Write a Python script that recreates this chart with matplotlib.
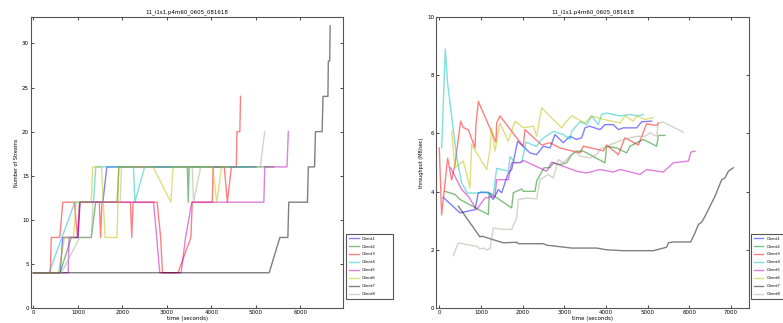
import matplotlib
matplotlib.use("Agg")
import matplotlib.pyplot as plt

TITLE = "11_i1s1.p4m60_0605_081618"
CLIENTS = ["Client1", "Client2", "Client3", "Client4",
           "Client5", "Client6", "Client7", "Client8"]
COLORS = ["b", "g", "r", "c", "m", "y", "k", "#a8a890"]

# number of streams per client: (time, streams)
streams_t = [
    [0, 600, 660, 1000, 1040, 1100, 1560, 1650, 5000],
    [0, 600, 850, 1300, 1400, 1880, 1920, 3460, 3480, 3500, 5400],
    [0, 380, 400, 590, 660, 920, 990, 1040, 1480, 1510, 1540, 2180, 2210, 2240,
     2780, 2860, 2900, 3250, 3540, 3570, 4020, 4040, 4290, 4360, 4450, 4560,
     4575, 4640, 4655],
    [0, 350, 930, 1350, 1400, 2250, 2280, 2500, 4900],
    [0, 780, 800, 1000, 1050, 2700, 2840, 3320, 3420, 3560, 5180, 5200, 5700, 5730],
    [0, 560, 700, 900, 960, 1300, 1330, 1530, 1610, 1880, 1920, 2690, 3090, 3140,
     4030, 4120, 4230, 4400],
    [0, 5300, 5540, 5720, 5740, 6160, 6180, 6320, 6340, 6490, 6510, 6620, 6630,
     6660, 6670],
    [0, 630, 1040, 1300, 1340, 1950, 1980, 3570, 3600, 3760, 5100, 5200],
]
streams_v = [
    [4, 4, 8, 8, 12, 12, 12, 16, 16],
    [4, 4, 8, 8, 12, 12, 16, 16, 12, 16, 16],
    [4, 4, 8, 8, 12, 12, 8, 12, 12, 8, 12, 12, 8, 12,
     12, 8, 4, 4, 8, 12, 12, 16, 16, 12, 16, 16,
     20, 20, 24],
    [4, 4, 12, 12, 16, 16, 12, 16, 16],
    [4, 4, 8, 8, 12, 12, 4, 4, 8, 12, 12, 16, 16, 20],
    [4, 4, 8, 8, 12, 12, 16, 16, 8, 8, 16, 16, 12, 16,
     16, 12, 16, 16],
    [4, 4, 8, 8, 12, 12, 16, 16, 20, 20, 24, 24, 28,
     28, 32],
    [4, 4, 8, 8, 12, 12, 16, 16, 12, 16, 16, 20],
]

# throughput per client: (time, MB/sec)
tput_t = [
    [96, 496, 856, 936, 1176, 1296, 1416, 1496, 1656, 1736, 1880, 2176, 2336, 2496,
     2656, 2776, 2976, 3136, 3296, 3416, 3496, 3600, 3856, 3976, 4176, 4296, 4416,
     4736, 4856, 5096],
    [136, 376, 496, 1176, 1200, 1736, 1776, 1976, 2016, 2296, 2336, 2512, 2656,
     2736, 2896, 3056, 3176, 3296, 3456, 3976, 4016, 4256, 4496, 4576, 4896, 5216,
     5256, 5416],
    [0, 56, 200, 296, 376, 512, 576, 696, 856, 880, 936, 1360, 1376, 1456, 1856,
     2016, 2056, 2456, 2656, 2816, 2896, 3376, 3456, 3936, 4016, 4296, 4456, 4776,
     4976, 5216, 5256],
    [56, 144, 200, 416, 536, 672, 936, 1000, 1296, 1376, 1656, 1696, 1816, 1976,
     2080, 2336, 2456, 2736, 2976, 3136, 3176, 3376, 3536, 3656, 3816, 3896, 4016,
     4336, 4576, 4776, 4896],
    [272, 536, 696, 896, 1096, 1336, 1376, 1656, 1736, 1936, 2016, 2576, 2696,
     2976, 3296, 3536, 3856, 4176, 4336, 4816, 4976, 5376, 5616, 5976, 6040, 6136],
    [296, 376, 576, 736, 776, 1136, 1216, 1256, 1336, 1456, 1656, 1816, 2016, 2256,
     2336, 2456, 2936, 3016, 3176, 3496, 3656, 3936, 4336, 4456, 4656, 4736, 4936,
     5136],
    [456, 976, 1016, 1536, 1856, 1896, 2496, 2576, 3176, 3776, 4016, 4416, 5136,
     5456, 5496, 5616, 6032, 6136, 6216, 6296, 6376, 6496, 6616, 6776, 6856, 6936,
     7056],
    [336, 456, 656, 896, 976, 1056, 1136, 1216, 1296, 1536, 1736, 1856, 1896, 2096,
     2336, 2416, 2616, 2736, 2856, 2976, 3136, 3256, 3376, 3616, 3776, 3856, 4016,
     4416, 4736, 4936, 5056, 5216, 5256, 5376, 5856],
]
tput_v = [
    [3.8, 3.27, 3.38, 3.96, 3.98, 3.73, 4.07, 3.96, 4.64, 4.76, 5.73, 5.33, 5.27,
     5.56, 5.5, 5.96, 5.68, 5.9, 5.79, 5.85, 6.19, 6.25, 6.13, 6.3, 6.3, 6.13, 6.19,
     6.19, 6.4, 6.42],
    [4.01, 3.9, 3.73, 3.21, 3.96, 3.44, 3.96, 4.09, 4.01, 4.01, 4.36, 4.82, 4.82,
     4.99, 4.93, 4.99, 5.27, 5.39, 5.39, 4.99, 5.56, 5.5, 5.33, 5.56, 5.79, 5.56,
     5.93, 5.93],
    [5.5, 3.2, 5.15, 4.4, 4.93, 6.42, 6.2, 6.13, 5.5, 6.3, 7.1, 5.7, 6.36, 6.6,
     5.85, 5.56, 6.13, 5.6, 5.68, 5.56, 5.5, 5.33, 5.56, 5.4, 5.6, 5.27, 5.85, 5.6,
     6.33, 6.27, 6.36],
    [5.5, 8.9, 7.7, 5.2, 4.3, 3.95, 3.95, 4.0, 3.9, 4.8, 4.7, 5.2, 5.0, 5.0, 5.7,
     5.55, 5.8, 6.07, 5.96, 5.8, 6.07, 6.4, 6.3, 6.6, 6.3, 6.65, 6.7, 6.6, 6.65,
     6.6, 6.65],
    [4.82, 4.07, 3.84, 3.38, 3.78, 3.84, 4.41, 4.41, 4.99, 4.99, 5.07, 4.7, 5.01,
     4.87, 4.7, 4.64, 4.76, 4.67, 4.76, 4.59, 4.76, 4.67, 4.99, 5.05, 5.36, 5.39],
    [6.08, 4.82, 5.05, 4.13, 5.62, 4.76, 5.45, 6.19, 5.39, 6.36, 5.73, 6.42, 6.19,
     6.25, 5.9, 6.88, 6.19, 6.36, 6.6, 6.36, 6.6, 6.48, 6.36, 6.6, 6.42, 6.6, 6.48,
     6.54],
    [3.5, 2.44, 2.47, 2.24, 2.26, 2.21, 2.21, 2.16, 2.06, 2.06, 2.0, 1.97, 1.97,
     2.09, 2.24, 2.27, 2.27, 2.58, 2.87, 2.95, 3.15, 3.5, 3.84, 4.41, 4.47, 4.7,
     4.82],
    [1.8, 2.24, 2.18, 2.12, 2.03, 2.06, 2.0, 2.03, 2.75, 2.7, 2.7, 3.1, 3.73, 3.78,
     3.75, 4.41, 4.59, 4.47, 5.1, 4.99, 5.22, 5.39, 5.22, 5.16, 5.27, 5.45, 5.56,
     5.79, 5.9, 5.9, 6.02, 5.9, 6.36, 6.39, 6.04],
]

fig = plt.figure(figsize=(7.83, 3.23), dpi=100, facecolor="white")
ax1 = fig.add_axes([0.0396, 0.0464, 0.3985, 0.901])
ax2 = fig.add_axes([0.5568, 0.0464, 0.3997, 0.901])


def style(ax):
    ax.tick_params(direction="in", labelsize=4, length=2, width=0.5,
                   top=True, right=True, pad=1.5)
    for sp in ax.spines.values():
        sp.set_color("#555555")
        sp.set_linewidth(0.8)
    ax.set_title(TITLE, fontsize=4, pad=3)
    ax.set_xlabel("time (seconds)", fontsize=4, labelpad=1)


for t, v, c, lab in zip(streams_t, streams_v, COLORS, CLIENTS):
    ax1.plot(t, v, color=c, alpha=0.5, lw=1.0, label=lab)
ax1.set_xlim(-55, 6960)
ax1.set_ylim(0, 33)
ax1.set_xticks(range(0, 7000, 1000))
ax1.set_yticks(range(0, 31, 5))
ax1.set_ylabel("Number of Streams", fontsize=3.5, labelpad=2)
style(ax1)

for t, v, c, lab in zip(tput_t, tput_v, COLORS, CLIENTS):
    ax2.plot(t, v, color=c, alpha=0.5, lw=1.0, label=lab)
ax2.set_xlim(-80, 7430)
ax2.set_ylim(0, 10)
ax2.set_xticks(range(0, 8000, 1000))
ax2.set_yticks(range(0, 11, 2))
ax2.set_ylabel("throughput (MB/sec)", fontsize=3.5, labelpad=2)
style(ax2)

# legends sit outside the axes, lower right; the right one runs off the figure
for ax, x0 in ((ax1, 1.01), (ax2, 1.006)):
    leg = ax.legend(loc="lower left", bbox_to_anchor=(x0, 0.031, 0.151, 0.227),
                    mode="expand", fontsize=2.8, fancybox=False, framealpha=1,
                    labelspacing=1.0, handlelength=2.4, borderpad=0.8,
                    borderaxespad=0)
    leg.get_frame().set_edgecolor("#555555")
    leg.get_frame().set_linewidth(0.8)

fig.savefig("out.png", dpi=100)
